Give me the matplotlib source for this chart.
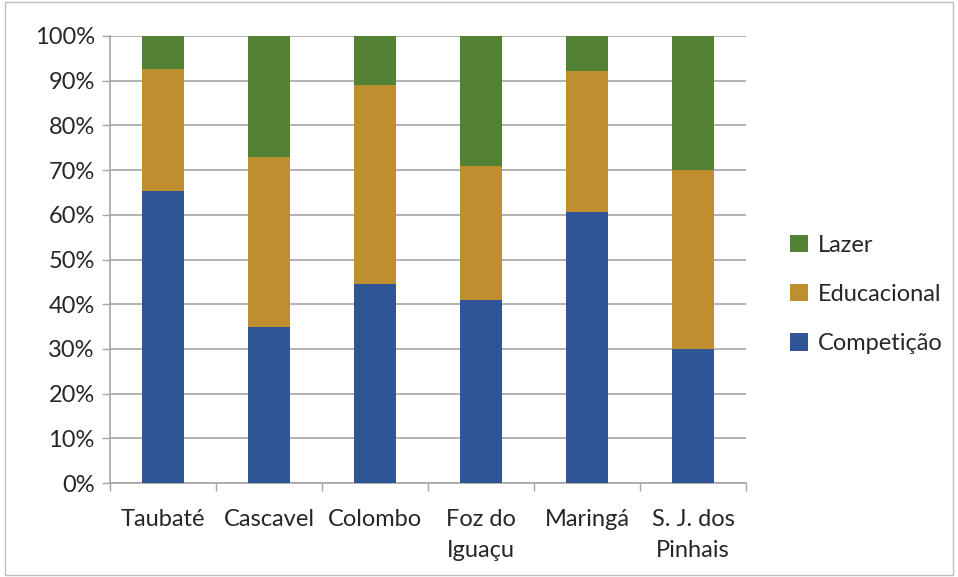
import matplotlib.pyplot as plt
import numpy as np
from matplotlib.patches import Rectangle

plt.rcParams['font.family'] = ['Lato', 'DejaVu Sans']

cities = ["Taubaté", "Cascavel", "Colombo", "Foz do\nIguaçu", "Maringá", "S. J. dos\nPinhais"]
competicao = [65.3, 34.9, 44.5, 40.9, 60.7, 30.0]
educacional = [27.4, 38.0, 44.5, 30.1, 31.4, 40.0]
lazer = [7.3, 27.1, 11.0, 29.0, 7.9, 30.0]

series = [("Competição", competicao, "#2F5597"),
          ("Educacional", educacional, "#BF8F2F"),
          ("Lazer", lazer, "#548235")]

FS = 17
TXT = "#262626"

W, H = 958, 577
fig = plt.figure(figsize=(W / 100, H / 100), dpi=100)
ax = fig.add_axes([110 / W, 1 - 483 / H, (746 - 110) / W, (483 - 36) / H])

x = np.arange(len(cities))
bottom = np.zeros(len(cities))
handles = []
for name, vals, color in series:
    b = ax.bar(x, vals, width=0.4, bottom=bottom, color=color, label=name, zorder=3)
    handles.append(b)
    bottom += np.array(vals)

ax.set_xlim(-0.5, len(cities) - 0.5)
ax.set_ylim(0, 100)
ax.set_yticks(np.arange(0, 101, 10))
ax.set_yticklabels([f"{v}%" for v in range(0, 101, 10)], fontsize=FS, color=TXT)
ax.yaxis.grid(True, color="#A6A6A6", linewidth=1.2, zorder=0)

ax.set_xticks(np.arange(-0.5, len(cities), 1.0))
ax.set_xticklabels([])
ax.set_xticks(x, minor=True)
ax.set_xticklabels(cities, minor=True, fontsize=FS, color=TXT, linespacing=1.55, va="top")
ax.tick_params(axis="x", which="minor", length=0, pad=19)
ax.tick_params(axis="x", which="major", length=6, color="#A6A6A6", width=1)
ax.tick_params(axis="y", length=6, color="#A6A6A6", width=1, pad=5)

for side in ["top", "right"]:
    ax.spines[side].set_visible(False)
for side in ["left", "bottom"]:
    ax.spines[side].set_color("#A6A6A6")
    ax.spines[side].set_linewidth(1.2)

leg = fig.legend(handles[::-1], [s[0] for s in series][::-1],
                 loc="center left", bbox_to_anchor=(790 / W, 1 - 294.5 / H),
                 frameon=False, fontsize=FS, labelspacing=1.2,
                 borderpad=0, borderaxespad=0,
                 handlelength=0.75, handleheight=0.75, handletextpad=0.45)
for t in leg.get_texts():
    t.set_color(TXT)

fig.patches.append(Rectangle((5 / W, 2 / H), (W - 10) / W, (H - 4) / H,
                             transform=fig.transFigure, fill=False,
                             edgecolor="#BFBFBF", linewidth=1))

fig.savefig("out.png", dpi=100)
